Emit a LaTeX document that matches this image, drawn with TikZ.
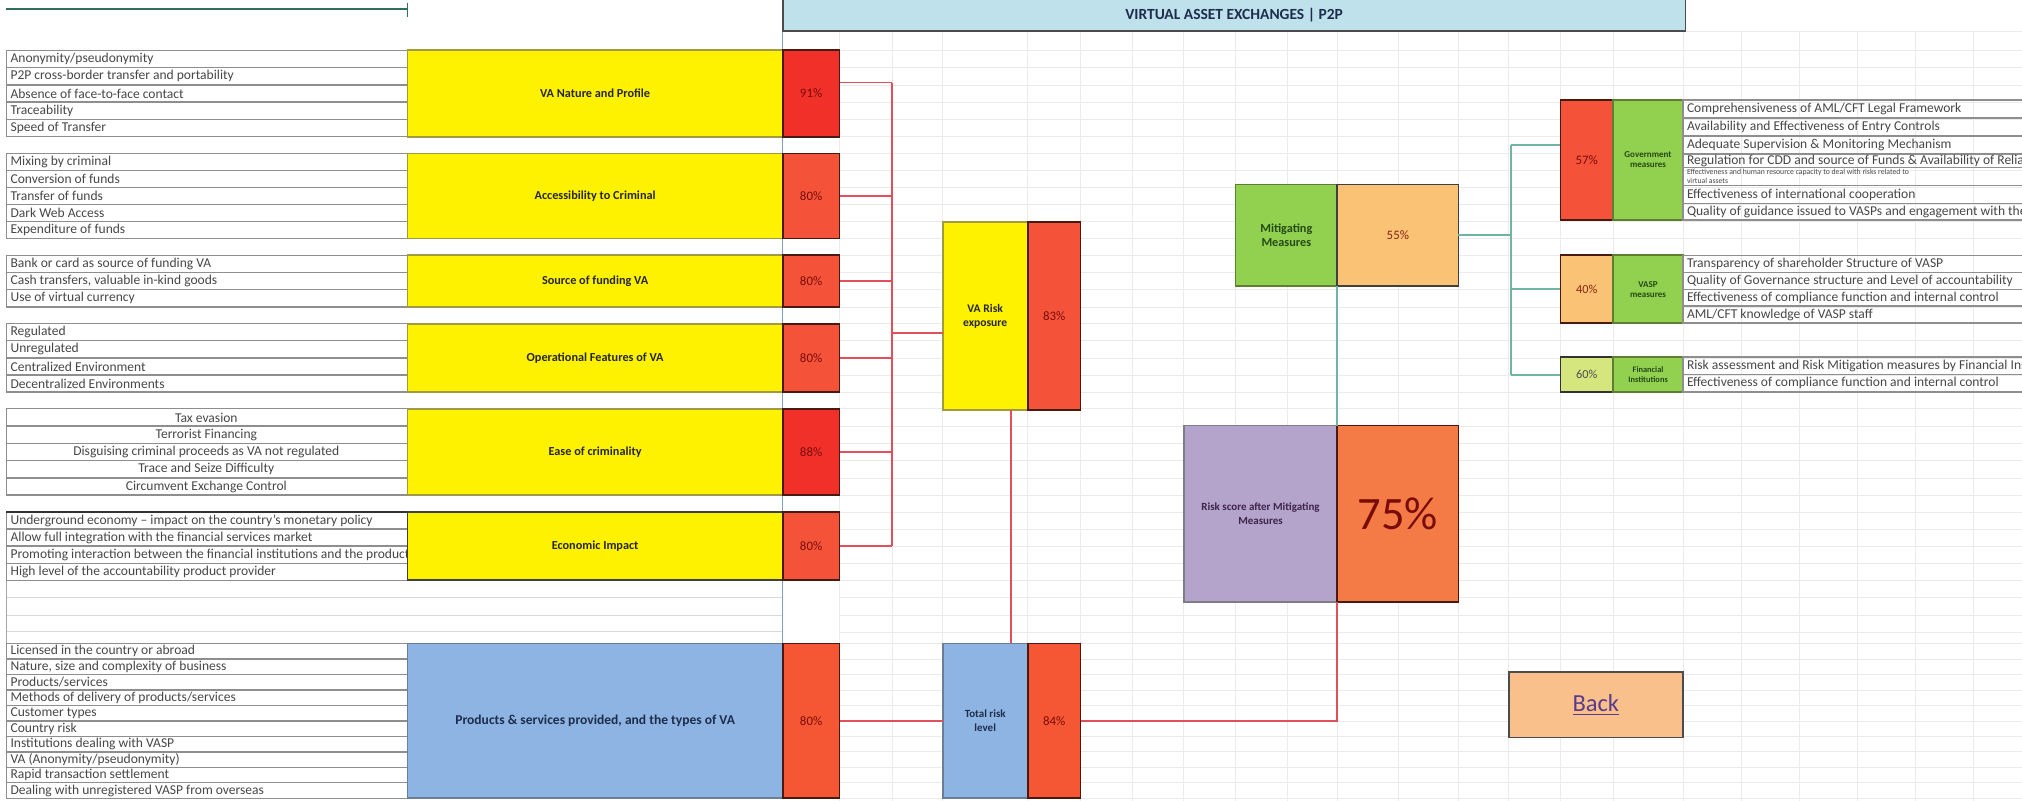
\documentclass[tikz,border=0pt]{standalone}
\usepackage{fontspec}
\setmainfont{Carlito}
\usetikzlibrary{calc}
\definecolor{yel}{HTML}{FFF200}
\definecolor{yelb}{HTML}{A09A42}
\definecolor{redA}{HTML}{F4533A}
\definecolor{redB}{HTML}{F2302A}
\definecolor{redb}{HTML}{4A1A12}
\definecolor{pct}{HTML}{7A0C08}
\definecolor{blu}{HTML}{8DB4E2}
\definecolor{blub}{HTML}{6A7F95}
\definecolor{grn}{HTML}{92D050}
\definecolor{grnb}{HTML}{5E7F33}
\definecolor{org}{HTML}{FAC274}
\definecolor{orgB}{HTML}{F47B45}
\definecolor{pur}{HTML}{B4A3CA}
\definecolor{purb}{HTML}{7D7D86}
\definecolor{hdr}{HTML}{BEE1EC}
\definecolor{lime}{HTML}{D6E67E}
\definecolor{bkc}{HTML}{FAC08C}
\definecolor{conr}{HTML}{E0505C}
\definecolor{cont}{HTML}{72B4A2}
\definecolor{rowc}{HTML}{8E8E8E}
\definecolor{navy}{HTML}{1F2D4D}
\definecolor{dgreen}{HTML}{244A14}
\definecolor{backc}{HTML}{5A3C8C}
\definecolor{sep}{HTML}{7F9FBF}
\definecolor{tl}{HTML}{2F6F5F}

\tikzset{
  sz/.style 2 args={minimum width=#1pt, minimum height=#2pt},
  bx/.style={draw, line width=1.3pt, inner sep=0pt, outer sep=0pt, anchor=north west, align=center},
  ylw/.style={bx, fill=yel, draw=yelb, text=black!85, font=\bfseries\fontsize{9.5}{11}\selectfont},
  blbox/.style={bx, fill=blu, draw=blub, text=navy, font=\bfseries\fontsize{9.5}{11}\selectfont},
  pctA/.style={bx, fill=redA, draw=redb, text=pct, font=\fontsize{10}{12}\selectfont},
  pctB/.style={bx, fill=redB, draw=redb, text=pct, font=\fontsize{10}{12}\selectfont},
  gbox/.style={bx, fill=grn, draw=grnb, text=dgreen, font=\bfseries\fontsize{9.5}{11}\selectfont},
  sgbox/.style={bx, fill=grn, draw=grnb, text=dgreen, font=\bfseries\fontsize{7}{8}\selectfont},
  rowln/.style={draw=rowc, line width=1.1pt},
  rowtxt/.style={inner sep=0pt, text=black!72, font=\fontsize{10.5}{12}\selectfont},
  smalltxt/.style={inner sep=0pt, text=black!72, font=\fontsize{6}{7}\selectfont, align=left},
  gridln/.style={draw=black!8, line width=0.5pt},
  conR/.style={draw=conr, line width=1.4pt},
  conT/.style={draw=cont, line width=1.4pt},
}

% #1 y0, #2 row height, #3 name prefix, #4 anchor, #5 x, #6 list
\newcommand\rowgrp[6]{%
  \foreach \t [count=\i from 0] in {#6} {
    \pgfmathsetmacro\ya{#1+\i*#2}
    \draw[rowln] (5,\ya) rectangle (316,{\ya+#2});
    \node[rowtxt, anchor=#4] (#3\i) at (#5,{\ya+#2/2}) {\t};
  }}
% right rows: #1 y0, #2 h, #3 prefix, #4 list
\newcommand\rrowgrp[4]{%
  \foreach \t [count=\i from 0] in {#4} {
    \pgfmathsetmacro\ya{#1+\i*#2}
    \draw[rowln] (1305,\ya) rectangle (1600,{\ya+#2});
    \node[rowtxt, anchor=west] (#3\i) at (1308,{\ya+#2/2}) {\t};
  }}

\begin{document}
\begin{tikzpicture}[x=1pt,y=-1pt]
\useasboundingbox (0,0) rectangle (1568,621);
\clip (0,0) rectangle (1568,621);
\fill[white] (0,0) rectangle (1568,621);

% faint spreadsheet grid
\foreach \yy in {24,39,52.4,65.8,79.2,92.6,106,119,132.2,145.4,158.6,171.8,185,198,211.3,224.7,238,251,264.2,277.5,290.8,304,317,330.4,343.8,357.2,370.6,384,397,410.2,423.5,436.8,450,463,477,490,499,511,523,535,547,559,571,583,595,607,619}
  \draw[gridln] (651,\yy) -- (1568,\yy);
\foreach \xx in {651,692,731,797,838,878,918,958,998,1037,1084,1131,1170,1210,1251,1305,1350,1395,1440,1485,1530}
  \draw[gridln] (\xx,24) -- (\xx,621);

% top-left line
\draw[draw=tl, line width=1.2pt] (5,7) -- (316,7);
\draw[draw=tl, line width=1.2pt] (316,2) -- (316,13);

% blank left rows
\foreach \yy in {463,477,490}
  \draw[draw=black!15, line width=0.8pt] (5,\yy) -- (607,\yy);
\draw[draw=black!35, line width=0.8pt] (5,450) -- (5,499);
\draw[draw=sep, line width=1pt] (607,24) -- (607,499);

% left text rows
\rowgrp{39}{13.4}{ga}{west}{8}{Anonymity/pseudonymity,P2P cross-border transfer and portability,Absence of face-to-face contact,Traceability,Speed of Transfer}
\rowgrp{119}{13.2}{gb}{west}{8}{Mixing by criminal,Conversion of funds,Transfer of funds,Dark Web Access,Expenditure of funds}
\rowgrp{198}{13.33}{gc}{west}{8}{Bank or card as source of funding VA,{Cash transfers, valuable in-kind goods},Use of virtual currency}
\rowgrp{251}{13.25}{gd}{west}{8}{Regulated,Unregulated,Centralized Environment,Decentralized Environments}
\rowgrp{317}{13.4}{ge}{center}{160}{Tax evasion,Terrorist Financing,Disguising criminal proceeds as VA not regulated,Trace and Seize Difficulty,Circumvent Exchange Control}
\rowgrp{397}{13.25}{gf}{west}{8}{Underground economy – impact on the country's monetary policy,Allow full integration with the financial services market,Promoting interaction between the financial institutions and the product provider,High level of the accountability product provider}
\draw[draw=black!80, line width=1.4pt] (5,397) -- (316,397);
\rowgrp{499}{12}{gg}{west}{8}{Licensed in the country or abroad,{Nature, size and complexity of business},Products/services,Methods of delivery of products/services,Customer types,Country risk,Institutions dealing with VASP,VA (Anonymity/pseudonymity),Rapid transaction settlement,Dealing with unregistered VASP from overseas}

% header
\node[bx, fill=hdr, draw=black!70, sz={700}{25}, text=navy, font=\bfseries\fontsize{12}{14}\selectfont] (hd) at (607,-1) {VIRTUAL ASSET EXCHANGES | P2P};

% yellow factor boxes and scores
\node[ylw, sz={291}{67}] (y1) at (316,39) {VA Nature and Profile};
\node[pctB, sz={44}{67}] (p1) at (607,39) {91\%};
\node[ylw, sz={291}{66}] (y2) at (316,119) {Accessibility to Criminal};
\node[pctA, sz={44}{66}] (p2) at (607,119) {80\%};
\node[ylw, sz={291}{40}] (y3) at (316,198) {Source of funding VA};
\node[pctA, sz={44}{40}] (p3) at (607,198) {80\%};
\node[ylw, sz={291}{53}] (y4) at (316,251) {Operational Features of VA};
\node[pctA, sz={44}{53}] (p4) at (607,251) {80\%};
\node[ylw, sz={291}{67}] (y5) at (316,317) {Ease of criminality};
\node[pctB, sz={44}{67}] (p5) at (607,317) {88\%};
\node[ylw, sz={291}{53}, draw=black!75] (y6) at (316,397) {Economic Impact};
\node[pctA, sz={44}{53}] (p6) at (607,397) {80\%};

% products box
\node[blbox, sz={291}{120}, font=\bfseries\fontsize{10.5}{12}\selectfont] (b7) at (316,499) {Products \& services provided, and the types of VA};
\node[pctA, sz={44}{120}, fill=redA!90!orange] (p7) at (607,499) {80\%};

% VA risk exposure
\node[ylw, sz={66}{146}, font=\bfseries\fontsize{9}{11}\selectfont] (vy) at (731,172) {VA Risk\\exposure};
\node[pctA, sz={41}{146}] (vp) at (797,172) {83\%};

% Total risk level
\node[blbox, sz={66}{120}, font=\bfseries\fontsize{8.5}{11}\selectfont] (tb) at (731,499) {Total risk\\level};
\node[pctA, sz={41}{120}, fill=redA!90!orange] (tp) at (797,499) {84\%};

% Mitigating measures
\node[gbox, sz={79}{79}] (mg) at (958,143) {Mitigating\\Measures};
\node[bx, fill=org, draw=black!75, sz={94}{79}, text=pct!80!brown, font=\fontsize{10}{12}\selectfont] (mo) at (1037,143) {55\%};

% Risk score after mitigating
\node[bx, fill=pur, draw=purb, sz={119}{137}, text=navy!80!purple, font=\bfseries\fontsize{8.5}{10.5}\selectfont] (rsp) at (918,330) {Risk score after Mitigating\\Measures};
\node[bx, fill=orgB, draw=redb, sz={94}{137}, text=pct, font=\fontsize{36}{40}\selectfont] (rso) at (1037,330) {75\%};

% Government measures
\node[pctA, sz={41}{93}] (gp) at (1210,77.5) {57\%};
\node[sgbox, sz={54}{93}] (gm) at (1251,77.5) {Government\\measures};
% VASP measures
\node[bx, fill=org, draw=redb, sz={41}{52.6}, text=pct!80!brown, font=\fontsize{9.5}{11}\selectfont] (vsp) at (1210,198) {40\%};
\node[sgbox, sz={54}{52.6}] (vsg) at (1251,198) {VASP\\measures};
% Financial institutions
\node[bx, fill=lime, draw=black!80, sz={41}{27}, text=black!70, font=\fontsize{9.5}{11}\selectfont] (fp) at (1210,277) {60\%};
\node[sgbox, sz={54}{27}, font=\bfseries\fontsize{6.5}{7.5}\selectfont] (fg) at (1251,277) {Financial\\Institutions};

% right text rows: government
\draw[rowln] (1305,77.5) rectangle (1600,91.5);
\node[rowtxt, anchor=west] (ra1) at (1308,84.5) {Comprehensiveness of AML/CFT Legal Framework};
\draw[rowln] (1305,91.5) rectangle (1600,105.5);
\node[rowtxt, anchor=west] (ra2) at (1308,98.5) {Availability and Effectiveness of Entry Controls};
\draw[rowln] (1305,105.5) rectangle (1600,119.5);
\node[rowtxt, anchor=west] (ra3) at (1308,112.5) {Adequate Supervision \& Monitoring Mechanism};
\draw[rowln] (1305,119.5) rectangle (1600,130);
\node[rowtxt, anchor=west] (ra4) at (1308,124.5) {Regulation for CDD and source of Funds \& Availability of Reliable Information};
\draw[rowln] (1305,130) rectangle (1600,144);
\node[smalltxt, anchor=west] (ra5) at (1308,137) {Effectiveness and human resource capacity to deal with risks related to\\virtual assets};
\draw[rowln] (1305,144) rectangle (1600,158);
\node[rowtxt, anchor=west] (ra6) at (1308,151) {Effectiveness of international cooperation};
\draw[rowln] (1305,158) rectangle (1600,170.6);
\node[rowtxt, anchor=west] (ra7) at (1308,164.3) {Quality of guidance issued to VASPs and engagement with the private sector};

\rrowgrp{198}{13.15}{rb}{Transparency of shareholder Structure of VASP,Quality of Governance structure and Level of accountability,Effectiveness of compliance function and internal control,AML/CFT knowledge of VASP staff}
\rrowgrp{277}{13.5}{rc}{Risk assessment and Risk Mitigation measures by Financial Institutions,Effectiveness of compliance function and internal control}

% Back button
\node[bx, fill=bkc, draw=black!70, sz={135}{51}, text=backc, font=\fontsize{19}{22}\selectfont] (bk) at (1170,521) {\underline{Back}};

% red connectors
\coordinate (bus) at (692,0);
\coordinate (vx) at (784,0);
\draw[conR] ([yshift=8.5pt]p1.east) -- ([yshift=8.5pt]p1.east -| bus);
\foreach \n in {p2,p3,p4,p5,p6}
  \draw[conR] (\n.east) -- (\n.east -| bus);
\draw[conR] ([yshift=8.5pt]p1.east -| bus) -- (p6.east -| bus);
\draw[conR] ([yshift=-13pt]vy.west -| bus) -- ([yshift=-13pt]vy.west);
\draw[conR] (vy.south -| vx) -- (tb.north -| vx);
\draw[conR] (p7.east) -- (tb.west);
\draw[conR] (tp.east) -| (rso.south west);

% teal connectors
\coordinate (tx) at (1172,0);
\draw[conT] (mo.south west) -- (rsp.north east);
\draw[conT] (mo.east) -- (mo.east -| tx);
\draw[conT] ([yshift=11.5pt]gp.west -| tx) -- (fp.west -| tx);
\draw[conT] ([yshift=11.5pt]gp.west -| tx) -- ([yshift=11.5pt]gp.west);
\draw[conT] (vsp.west -| tx) -- (vsp.west);
\draw[conT] (fp.west -| tx) -- (fp.west);
\end{tikzpicture}
\end{document}
